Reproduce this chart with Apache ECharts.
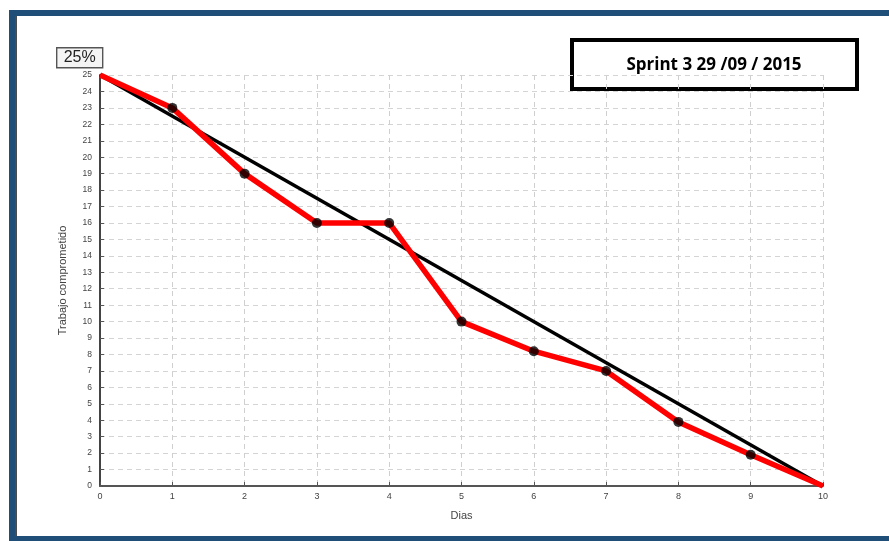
<!DOCTYPE html>
<html>
<head>
<meta charset="utf-8">
<script src="https://cdn.jsdelivr.net/npm/echarts@6/dist/echarts.min.js"></script>
<style>
  html, body { margin: 0; padding: 0; background: #fff; }
  #chart { width: 889px; height: 541px; }
</style>
</head>
<body>
<div id="chart"></div>
<script>
// Sprint burndown: ideal line vs. actual remaining work
const days = [0, 1, 2, 3, 4, 5, 6, 7, 8, 9, 10];
const idealWork = [25, 0];            // straight line from day 0 to day 10
const idealDays = [0, 10];
const actualWork = [25, 23, 19, 16, 16, 10, 8.2, 7, 3.9, 1.9, 0];

const chart = echarts.init(document.getElementById('chart'));

const idealData = idealDays.map((d, i) => [d, idealWork[i]]);
const actualData = days.map((d, i) => [d, actualWork[i]]);
const dotData = actualData.slice(1, actualData.length - 1);

chart.setOption({
  animation: false,
  backgroundColor: '#ffffff',
  grid: { left: 100, right: 66, top: 75, bottom: 55 },
  xAxis: {
    type: 'value', min: 0, max: 10, interval: 1,
    name: 'Dias', nameLocation: 'middle', nameGap: 24,
    nameTextStyle: { color: '#444', fontSize: 11, fontFamily: 'Liberation Sans' },
    axisLine: { lineStyle: { color: '#555', width: 2 } },
    axisTick: { show: true, length: 4, inside: true, lineStyle: { color: '#555' } },
    axisLabel: { color: '#444', fontSize: 9, margin: 6, fontFamily: 'Liberation Sans' },
    splitLine: { show: true, lineStyle: { color: '#cfcfcf', type: [5, 4], width: 1 } }
  },
  yAxis: {
    type: 'value', min: 0, max: 25, interval: 1,
    name: 'Trabajo comprometido', nameLocation: 'middle', nameGap: 32, nameRotate: 90,
    nameTextStyle: { color: '#444', fontSize: 11, fontFamily: 'Liberation Sans' },
    axisLine: { show: true, lineStyle: { color: '#444', width: 2 } },
    axisTick: { show: true, length: 4, inside: true, lineStyle: { color: '#555' } },
    axisLabel: { color: '#444', fontSize: 8.5, margin: 8, fontFamily: 'Liberation Sans' },
    splitLine: { show: true, lineStyle: { color: '#d4d4d4', type: [5, 4], width: 1 } }
  },
  graphic: [
    // outer frame
    { type: 'rect', shape: { x: 12, y: 13, width: 890, height: 526 },
      style: { fill: 'none', stroke: '#1f4e79', lineWidth: 6 }, z: 100 },
    { type: 'line', shape: { x1: 16, y1: 16, x2: 16, y2: 536 },
      style: { stroke: '#111', lineWidth: 1.5 }, z: 101 },
    // percentage badge
    { type: 'group', left: 56, top: 47, z: 50, children: [
      { type: 'rect', shape: { x: 0, y: 0, width: 46, height: 20 },
        style: { fill: '#f4f4f4', stroke: '#555', lineWidth: 1.4 } },
      { type: 'text', x: 23, y: 10,
        style: { text: '25%', fill: '#222', font: '16px "Liberation Sans"',
                 textAlign: 'center', textVerticalAlign: 'middle' } }
    ] },
    // sprint title box
    { type: 'group', left: 570, top: 38, z: 50, children: [
      { type: 'rect', shape: { x: 2, y: 2, width: 285, height: 49 },
        style: { fill: '#ffffff', stroke: '#000', lineWidth: 4 } },
      { type: 'text', x: 144, y: 27,
        style: { text: 'Sprint 3 29 /09 / 2015', fill: '#000',
                 font: 'bold 17px "Open Sans"', textAlign: 'center', textVerticalAlign: 'middle' } }
    ] }
  ],
  series: [
    {
      name: 'Ideal', type: 'line', data: idealData,
      showSymbol: false, lineStyle: { color: '#000', width: 3.5 }, z: 3
    },
    {
      name: 'Real', type: 'line', data: actualData,
      showSymbol: false, lineStyle: { color: '#ff0000', width: 5.5 }, z: 4
    },
    {
      name: 'Puntos', type: 'scatter', data: dotData,
      symbolSize: 10, itemStyle: { color: '#000' }, z: 5
    }
  ]
});
</script>
</body>
</html>
